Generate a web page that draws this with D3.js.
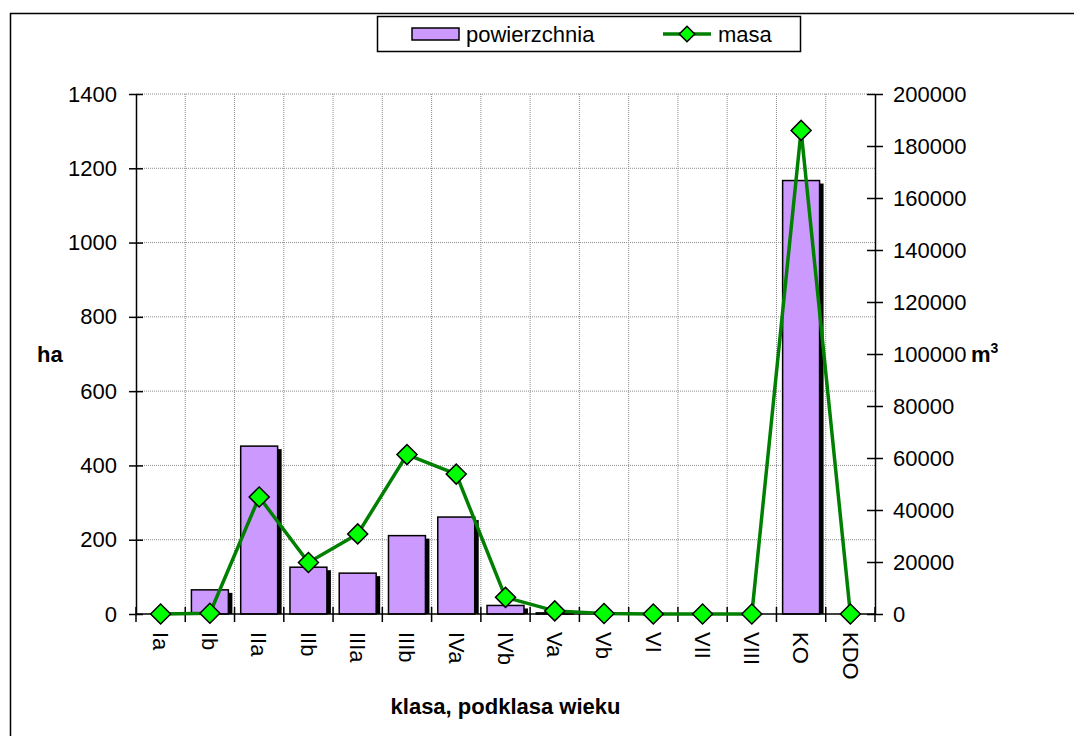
<!DOCTYPE html>
<html>
<head>
<meta charset="utf-8">
<script src="https://cdn.jsdelivr.net/npm/d3@7"></script>
<style>
    body { margin: 0; background: #fff; }
    svg { display: block; font-family: "Liberation Sans", Arial, sans-serif; }
    .grid line { stroke: #8c8c8c; stroke-dasharray: 1, 1; }
    .axis path, .axis line { stroke: #000; stroke-width: 1.5; }
    .axis text { font-size: 22px; fill: #000; }
</style>
</head>
<body>
<div id="chart"></div>
<script>
// age classes / subclasses
const categories = ['Ia', 'Ib', 'IIa', 'IIb', 'IIIa', 'IIIb', 'IVa', 'IVb', 'Va', 'Vb', 'VI', 'VII', 'VIII', 'KO', 'KDO'];
// area in ha (bars, left axis)
const powierzchnia = [0, 65, 452, 126, 110, 211, 261, 23, 3, 0, 0, 0, 0, 1167, 0];
// volume in m3 (line, right axis)
const masa = [0, 300, 45000, 19800, 30800, 61300, 53800, 6400, 1200, 200, 0, 0, 0, 186000, 0];
// tick values
const haTicks = [0, 200, 400, 600, 800, 1000, 1200, 1400];
const m3Ticks = [0, 20000, 40000, 60000, 80000, 100000, 120000, 140000, 160000, 180000, 200000];

class comboChart {

    constructor(opts) {
        this.element = opts.element;
        this.draw();
    }

    draw() {
        this.width = 1074;
        this.height = 736;
        this.margin = { top: 94, right: 199, bottom: 122, left: 136 };

        this.element.innerHTML = '';
        this.svg = d3.select(this.element).append('svg')
            .attr('width', this.width)
            .attr('height', this.height);

        // outer frame (runs off the right and bottom edges)
        this.svg.append('rect')
            .attr('x', 10.5).attr('y', 13.5)
            .attr('width', 1080).attr('height', 740)
            .attr('fill', 'none').attr('stroke', '#000').attr('stroke-width', 1.5);

        this.createScales();
        this.addGrid();
        this.addBars();
        this.addAxes();
        this.addLine();
        this.addLegend();
    }

    createScales() {
        const m = this.margin;
        this.x0 = m.left;
        this.x1 = this.width - m.right;
        this.y0 = this.height - m.bottom;
        this.y1 = m.top;

        this.xScale = d3.scaleBand()
            .domain(categories)
            .range([this.x0, this.x1])
            .paddingInner(0.25)
            .paddingOuter(0.125);

        this.yLeft = d3.scaleLinear().domain([0, 1400]).range([this.y0, this.y1]);
        this.yRight = d3.scaleLinear().domain([0, 200000]).range([this.y0, this.y1]);
    }

    addGrid() {
        const step = this.xScale.step();
        const bounds = d3.range(1, categories.length).map(i => this.x0 + i * step);
        const g = this.svg.append('g').attr('class', 'grid');

        g.selectAll('.h').data(haTicks.slice(1)).join('line')
            .attr('x1', this.x0).attr('x2', this.x1)
            .attr('y1', d => this.yLeft(d)).attr('y2', d => this.yLeft(d));

        g.selectAll('.v').data(bounds).join('line')
            .attr('x1', d => d).attr('x2', d => d)
            .attr('y1', this.y1).attr('y2', this.y0);
    }

    addBars() {
        const bw = this.xScale.bandwidth();
        const rows = categories.map((c, i) => ({ c: c, v: powierzchnia[i] })).filter(d => d.v > 0);

        // drop shadow
        this.svg.append('g').selectAll('rect').data(rows).join('rect')
            .attr('x', d => this.xScale(d.c) + 4)
            .attr('y', d => this.yLeft(d.v) + 3)
            .attr('width', bw)
            .attr('height', d => this.y0 - this.yLeft(d.v) - 3)
            .attr('fill', '#000');

        this.svg.append('g').selectAll('rect').data(rows).join('rect')
            .attr('x', d => this.xScale(d.c))
            .attr('y', d => this.yLeft(d.v))
            .attr('width', bw)
            .attr('height', d => this.y0 - this.yLeft(d.v))
            .attr('fill', '#cc99ff')
            .attr('stroke', '#000')
            .attr('stroke-width', 1.5);
    }

    addAxes() {
        const step = this.xScale.step();

        const leftAxis = d3.axisLeft(this.yLeft).tickValues(haTicks)
            .tickSizeInner(7).tickSizeOuter(0).tickPadding(12)
            .tickFormat(d3.format('d'));
        const gl = this.svg.append('g').attr('class', 'axis')
            .attr('transform', `translate(${this.x0},0)`)
            .call(leftAxis);
        gl.selectAll('.tick line').attr('x1', 7).attr('x2', -7);

        const rightAxis = d3.axisRight(this.yRight).tickValues(m3Ticks)
            .tickSizeInner(8).tickSizeOuter(0).tickPadding(10)
            .tickFormat(d3.format('d'));
        const gr = this.svg.append('g').attr('class', 'axis')
            .attr('transform', `translate(${this.x1},0)`)
            .call(rightAxis);
        gr.selectAll('.tick line').attr('x1', -8).attr('x2', 8);

        // x axis: ticks on category boundaries, labels rotated
        const gx = this.svg.append('g').attr('class', 'axis');
        gx.append('line')
            .attr('x1', this.x0).attr('x2', this.x1)
            .attr('y1', this.y0).attr('y2', this.y0);
        gx.selectAll('.xt').data(d3.range(0, categories.length + 1)).join('line')
            .attr('x1', i => this.x0 + i * step).attr('x2', i => this.x0 + i * step)
            .attr('y1', this.y0 - 7).attr('y2', this.y0 + 8);
        gx.selectAll('text').data(categories).join('text')
            .attr('transform', d => `translate(${this.xScale(d) + this.xScale.bandwidth() / 2},${this.y0 + 18}) rotate(90)`)
            .attr('dy', '0.35em')
            .text(d => d);

        // axis titles
        this.svg.append('text')
            .attr('x', 37).attr('y', 362)
            .attr('font-size', 22).attr('font-weight', 'bold')
            .text('ha');

        const m3 = this.svg.append('text')
            .attr('x', 971).attr('y', 362)
            .attr('font-size', 22).attr('font-weight', 'bold')
            .text('m');
        m3.append('tspan').attr('dy', -9).attr('font-size', 14).text('3');

        this.svg.append('text')
            .attr('x', (this.x0 + this.x1) / 2).attr('y', 714)
            .attr('text-anchor', 'middle')
            .attr('font-size', 22).attr('font-weight', 'bold')
            .text('klasa, podklasa wieku');
    }

    addLine() {
        const cx = c => this.xScale(c) + this.xScale.bandwidth() / 2;
        const pts = categories.map((c, i) => ({ c: c, v: masa[i] }));

        const line = d3.line()
            .x(d => cx(d.c))
            .y(d => this.yRight(d.v));

        this.svg.append('path')
            .datum(pts)
            .attr('d', line)
            .attr('fill', 'none')
            .attr('stroke', '#008000')
            .attr('stroke-width', 3.5);

        const diamond = d3.symbol().type(d3.symbolSquare).size(200);
        this.svg.append('g').selectAll('path').data(pts).join('path')
            .attr('d', diamond)
            .attr('transform', d => `translate(${cx(d.c)},${this.yRight(d.v)}) rotate(45)`)
            .attr('fill', '#00ff00')
            .attr('stroke', '#000')
            .attr('stroke-width', 1.5);
    }

    addLegend() {
        const lg = this.svg.append('g');
        lg.append('rect')
            .attr('x', 377.5).attr('y', 16.5)
            .attr('width', 423).attr('height', 35)
            .attr('fill', '#fff').attr('stroke', '#000').attr('stroke-width', 1.5);

        lg.append('rect')
            .attr('x', 412).attr('y', 28)
            .attr('width', 47).attr('height', 12)
            .attr('fill', '#cc99ff').attr('stroke', '#000').attr('stroke-width', 1.5);
        lg.append('text')
            .attr('x', 466).attr('y', 42)
            .attr('font-size', 22)
            .text('powierzchnia');

        lg.append('line')
            .attr('x1', 663).attr('x2', 711)
            .attr('y1', 34).attr('y2', 34)
            .attr('stroke', '#008000').attr('stroke-width', 3.5);
        lg.append('path')
            .attr('d', d3.symbol().type(d3.symbolSquare).size(120))
            .attr('transform', 'translate(687,34) rotate(45)')
            .attr('fill', '#00ff00').attr('stroke', '#000').attr('stroke-width', 1.5);
        lg.append('text')
            .attr('x', 718).attr('y', 42)
            .attr('font-size', 22)
            .text('masa');
    }
}

new comboChart({ element: document.getElementById('chart') });
</script>
</body>
</html>
